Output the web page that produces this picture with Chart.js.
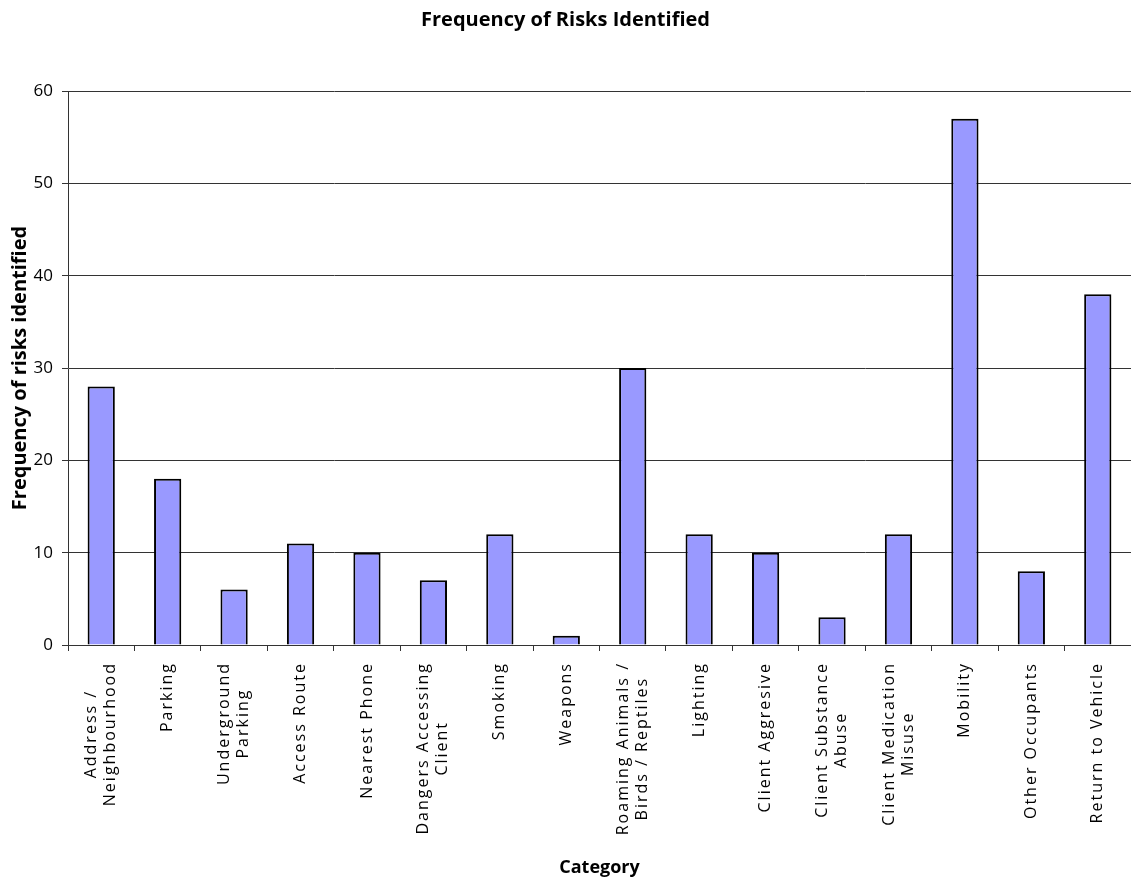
<!doctype html>
<html lang="en">
<head>
  <meta charset="utf-8">
  <title>Frequency of Risks Identified</title>
  <style>
    html, body { margin: 0; padding: 0; background: #fff; }
    #wrap { width: 1131px; height: 879px; }
  </style>
</head>
<body>
  <div id="wrap"><canvas id="myChart"></canvas></div>

  <script src="https://cdn.jsdelivr.net/npm/chart.js@4.4.2/dist/chart.umd.min.js"></script>
  <script>
    const categories = [
      ['Address /', 'Neighbourhood'],
      ['Parking'],
      ['Underground', 'Parking'],
      ['Access Route'],
      ['Nearest Phone'],
      ['Dangers Accessing', 'Client'],
      ['Smoking'],
      ['Weapons'],
      ['Roaming Animals /', 'Birds / Reptiles'],
      ['Lighting'],
      ['Client Aggresive'],
      ['Client Substance', 'Abuse'],
      ['Client Medication', 'Misuse'],
      ['Mobility'],
      ['Other Occupants'],
      ['Return to Vehicle']
    ];
    const riskCounts = [28, 18, 6, 11, 10, 7, 12, 1, 30, 12, 10, 3, 12, 57, 8, 38];
    const yTicks = [0, 10, 20, 30, 40, 50, 60];

    const FONT = '"Open Sans", "DejaVu Sans", sans-serif';

    // rotated, centred multi-line category labels
    const catLabels = {
      id: 'catLabels',
      afterDraw(chart) {
        const x = chart.scales.x;
        const c = chart.ctx;
        c.save();
        c.font = '16px ' + FONT;
        c.fillStyle = '#000';
        c.letterSpacing = '2px';
        c.textAlign = 'right';
        c.textBaseline = 'middle';
        const lh = 19;
        categories.forEach((lines, i) => {
          const px = x.getPixelForTick(i);
          const widths = lines.map(l => c.measureText(l).width);
          const maxW = Math.max(...widths);
          c.save();
          c.translate(px, x.top + 17);
          c.rotate(-Math.PI / 2);
          lines.forEach((l, j) => {
            c.fillText(l, -(maxW - widths[j]) / 2, (j - (lines.length - 1) / 2) * lh);
          });
          c.restore();
        });
        c.restore();
      }
    };

    new Chart(document.getElementById('myChart'), {
      type: 'bar',
      data: {
        labels: categories,
        datasets: [{
          label: 'Frequency',
          data: riskCounts,
          backgroundColor: '#9999ff',
          borderColor: '#000',
          borderWidth: 2,
          barPercentage: 0.41,
          categoryPercentage: 1
        }]
      },
      options: {
        responsive: true,
        maintainAspectRatio: false,
        animation: false,
        layout: { padding: { left: 0, right: 0, top: 0, bottom: 0 } },
        plugins: {
          legend: { display: false },
          tooltip: { enabled: false },
          title: {
            display: true,
            text: 'Frequency of Risks Identified',
            color: '#000',
            font: { family: FONT, size: 20, weight: 'bold' },
            padding: { top: 8, bottom: 59 }
          }
        },
        scales: {
          x: {
            grid: {
              offset: true,
              drawOnChartArea: false,
              color: '#333',
              tickLength: 6
            },
            border: { color: '#333' },
            ticks: { display: false },
            title: {
              display: true,
              text: 'Category',
              color: '#000',
              font: { family: FONT, size: 18, weight: 'bold' },
              padding: { top: 0, bottom: 0 }
            },
            afterFit(s) { s.height = 234; }
          },
          y: {
            min: 0,
            max: 60,
            afterBuildTicks(s) { s.ticks = yTicks.map(v => ({ value: v })); },
            grid: { color: '#333', tickLength: 6 },
            border: { color: '#333' },
            ticks: {
              color: '#000',
              padding: 9,
              font: { family: FONT, size: 17 }
            },
            title: {
              display: true,
              text: 'Frequency of risks identified',
              color: '#000',
              font: { family: FONT, size: 20, weight: 'bold' },
              padding: { top: 8, bottom: 4 }
            },
            afterFit(s) { s.width = 68; }
          }
        }
      },
      plugins: [catLabels]
    });
  </script>
</body>
</html>
